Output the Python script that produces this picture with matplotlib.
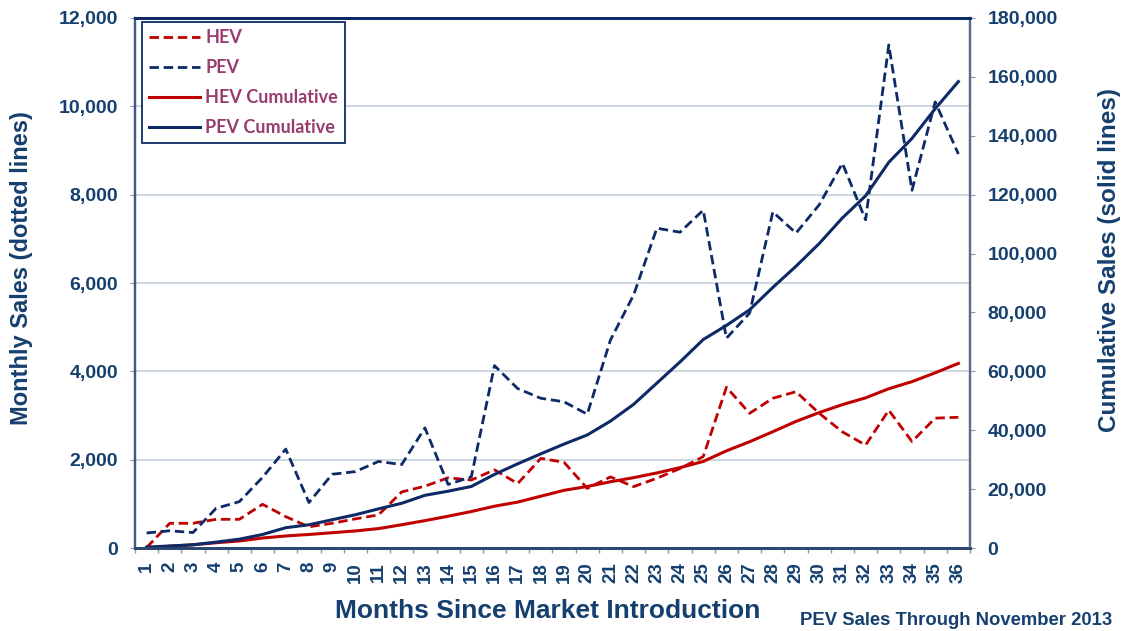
import matplotlib
matplotlib.use("Agg")
from matplotlib import pyplot as plt
import numpy as np

months = list(range(1, 37))

hev_monthly = [10, 560, 560, 650, 650, 990, 710, 480, 560, 660, 750, 1270,
               1400, 1590, 1540, 1770, 1460, 2030, 1940, 1350, 1610, 1390, 1580, 1800,
               2070, 3640, 3050, 3390, 3540, 3050, 2630, 2330, 3120, 2410, 2940, 2960]
pev_monthly = [340, 390, 350, 900, 1050, 1600, 2240, 1030, 1670, 1730, 1960, 1890,
               2720, 1440, 1610, 4130, 3610, 3390, 3310, 3030, 4710, 5730, 7240, 7150,
               7650, 4750, 5320, 7610, 7130, 7770, 8710, 7430, 11390, 8100, 10100, 8920]
hev_cumulative = [0, 600, 1100, 1800, 2400, 3400, 4100, 4600, 5200, 5800, 6600, 7900,
                  9300, 10800, 12400, 14200, 15600, 17600, 19600, 20900, 22500, 23900, 25500, 27300,
                  29400, 33000, 36100, 39500, 43000, 46000, 48700, 51000, 54100, 56500, 59500, 62700]
pev_cumulative = [300, 700, 1100, 2000, 3000, 4600, 6900, 7900, 9600, 11300, 13300, 15200,
                  17900, 19300, 20900, 25000, 28600, 32000, 35300, 38400, 43100, 48800, 56000, 63200,
                  70800, 75600, 80900, 88500, 95700, 103400, 112100, 119600, 131000, 139100, 149200, 158400]

RED = "#C00000"
NAVY = "#0E2A66"
TXT = "#153F6E"
LEG_TXT = "#983C6E"
FONT = "Liberation Sans"

fig = plt.figure(figsize=(11.22, 6.31), dpi=100)
ax = fig.add_axes([0.1203, 0.1315, 0.7442, 0.84])
ax2 = ax.twinx()

dash = (3.4, 1.7)
l1, = ax.plot(months, hev_monthly, color=RED, lw=2.0, dashes=dash, label="HEV")
l2, = ax.plot(months, pev_monthly, color=NAVY, lw=2.0, dashes=dash, label="PEV")
l3, = ax2.plot(months, hev_cumulative, color=RED, lw=2.2, label="HEV Cumulative")
l4, = ax2.plot(months, pev_cumulative, color=NAVY, lw=2.2, label="PEV Cumulative")

ax.set_xlim(0.5, 36.5)
ax.set_ylim(0, 12000)
ax2.set_ylim(0, 180000)

ax.set_yticks(np.arange(0, 12001, 2000))
ax.set_yticklabels([f"{v:,}" for v in range(0, 12001, 2000)])
ax2.set_yticks(np.arange(0, 180001, 20000))
ax2.set_yticklabels([f"{v:,}" for v in range(0, 180001, 20000)])

ax.set_xticks(np.arange(0.5, 37, 1))
ax.set_xticklabels([])
ax.set_xticks(months, minor=True)
ax.set_xticklabels([str(m) for m in months], minor=True, rotation=90)
ax.tick_params(axis="x", which="minor", length=0, pad=10)
ax.tick_params(axis="x", which="major", length=3.6, width=1, color="#8A97AA")

for a in (ax, ax2):
    for lab in a.get_yticklabels() + a.get_xticklabels(minor=True):
        lab.set_fontfamily(FONT)
        lab.set_fontweight("bold")
        lab.set_fontsize(14)
        lab.set_color(TXT)
for lab in ax.get_xticklabels(minor=True):
    lab.set_fontsize(13.5)
ax.tick_params(axis="y", length=3.6, color="#8A97AA", pad=8.5)
ax2.tick_params(axis="y", length=3.6, color="#8A97AA", pad=9)

ax.grid(axis="y", color="#C5CEDA", lw=1.2)
ax.set_axisbelow(True)

for a in (ax, ax2):
    a.spines["top"].set_color(NAVY)
    a.spines["top"].set_linewidth(2)
    a.spines["bottom"].set_color("#2C4770")
    a.spines["bottom"].set_linewidth(2)
    a.spines["left"].set_color("#3D5A88")
    a.spines["left"].set_linewidth(1.6)
    a.spines["right"].set_color("#5B6C88")
    a.spines["right"].set_linewidth(1.6)

ax.set_ylabel("Monthly Sales (dotted lines)", fontfamily=FONT, fontweight="bold",
              fontsize=17, color=TXT)
ax.yaxis.set_label_coords(-0.122, 0.529)
ax2.set_ylabel("Cumulative Sales (solid lines)", fontfamily=FONT, fontweight="bold",
               fontsize=17.5, color=TXT)
ax2.yaxis.set_label_coords(1.153, 0.543)
ax.set_xlabel("Months Since Market Introduction", fontfamily=FONT, fontweight="bold",
              fontsize=19, color=TXT)
ax.xaxis.set_label_coords(0.494, -0.0962)

fig.text(0.991, 0.0095, "PEV Sales Through November 2013", ha="right", va="baseline",
         fontfamily=FONT, fontweight="bold", fontsize=13.3, color=TXT)

leg = ax2.legend(handles=[l1, l2, l3, l4], loc="upper left", bbox_to_anchor=(0.0084, 0.9925),
                 prop={"family": "Lato", "weight": "bold", "size": 13},
                 frameon=True, fancybox=False, edgecolor=NAVY, framealpha=1,
                 borderaxespad=0, handlelength=2.8, handletextpad=0.3,
                 labelspacing=0.72, borderpad=0.4)
leg.get_frame().set_linewidth(1.3)
for t in leg.get_texts():
    t.set_color(LEG_TXT)

fig.savefig("out.png", dpi=100)
